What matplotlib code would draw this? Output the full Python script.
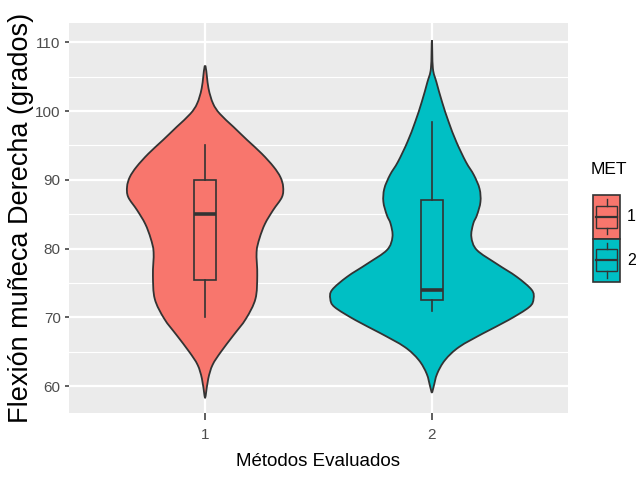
import numpy as np
import matplotlib
matplotlib.use('Agg')
import matplotlib.pyplot as plt
from matplotlib.patches import Rectangle, PathPatch
from matplotlib.path import Path
from matplotlib.lines import Line2D

# violin outlines: y value and half width (x data units)
met1_y = [106.6, 103.3, 101.1, 99.6, 97.7, 95.8, 93.8, 91.9, 90.4, 89.0, 87.5,
          85.6, 83.6, 81.5, 79.5, 76.1, 72.7, 69.8, 67.4, 65.0, 63.1, 61.1,
          58.7, 58.4]
met1_hw = [0.0, 0.015, 0.035, 0.065, 0.125, 0.185, 0.250, 0.302, 0.332, 0.344,
           0.339, 0.300, 0.264, 0.240, 0.227, 0.230, 0.222, 0.180, 0.125, 0.070,
           0.033, 0.014, 0.003, 0.0]
met2_y = [110.3, 106.2, 104.2, 101.3, 98.4, 95.5, 92.6, 90.7, 88.7, 86.8, 84.9,
          83.6, 81.7, 79.8, 77.8, 75.9, 74.0, 72.7, 71.5, 69.6, 67.7, 65.7,
          63.8, 61.8, 59.9, 59.1]
met2_hw = [0.0, 0.0044, 0.020, 0.045, 0.074, 0.108, 0.150, 0.185, 0.210, 0.214,
           0.199, 0.182, 0.174, 0.198, 0.285, 0.374, 0.440, 0.448, 0.429, 0.337,
           0.227, 0.120, 0.058, 0.023, 0.0075, 0.0]

# boxplot summaries
methods = [1, 2]
whis_lo = [70, 71]
q1 = [75.5, 72.5]
median = [85, 74]
q3 = [90, 87]
whis_hi = [95, 98.4]

colors = ['#F8766D', '#00BFC4']
dark = '#333333'

plt.rcParams['font.family'] = ['Liberation Sans', 'DejaVu Sans']


def violin_path(pos, yy, hw):
    # closed outline through the read points, drawn as smooth bezier pieces
    yy = np.asarray(yy, float)
    hw = np.asarray(hw, float)
    right = np.column_stack([pos + hw, yy])
    left = np.column_stack([pos - hw, yy])[::-1]
    pts = np.vstack([right, left[1:-1]])
    n = len(pts)
    verts = [pts[0]]
    codes = [Path.MOVETO]
    for i in range(n):
        p0, p1, p2, p3 = pts[i - 1], pts[i], pts[(i + 1) % n], pts[(i + 2) % n]
        c1 = p1 + (p2 - p0) / 6
        c2 = p2 - (p3 - p1) / 6
        verts += [c1, c2, p2]
        codes += [Path.CURVE4] * 3
    return Path(verts, codes)


W, H = 636, 479
fig = plt.figure(figsize=(W / 100, H / 100), dpi=100)
ax = fig.add_axes([69 / W, 1 - 413 / H, (568 - 69) / W, (413 - 23) / H])
ax.set_facecolor('#EBEBEB')
for s in ax.spines.values():
    s.set_visible(False)

ax.set_xlim(0.4, 2.6)
ax.set_ylim(56.1, 112.8)
ax.set_xticks(methods)
ax.set_xticklabels([str(m) for m in methods])
ax.set_yticks(np.arange(60, 111, 10))
ax.set_yticks(np.arange(65, 110, 10), minor=True)
ax.grid(True, which='major', color='white', linewidth=1.6)
ax.grid(True, which='minor', axis='y', color='white', linewidth=0.8)
ax.set_axisbelow(True)
ax.tick_params(axis='x', which='major', length=5, width=1.1, color=dark,
               labelcolor='#4D4D4D', labelsize=11, pad=5.5)
ax.tick_params(axis='y', which='major', length=3, width=1.1, color=dark,
               labelcolor='#4D4D4D', labelsize=11, pad=3)
ax.tick_params(axis='y', which='minor', length=0)

# violins
for pos, yy, hw, c in zip(methods, [met1_y, met2_y], [met1_hw, met2_hw], colors):
    ax.add_patch(PathPatch(violin_path(pos, yy, hw), facecolor=c, edgecolor=dark,
                           linewidth=1.3, zorder=2))

# boxplots
for i, pos in enumerate(methods):
    st = [dict(med=median[i], q1=q1[i], q3=q3[i], whislo=whis_lo[i],
               whishi=whis_hi[i], fliers=[])]
    ax.bxp(st, positions=[pos], widths=0.1, patch_artist=True, showcaps=False,
           showfliers=False, manage_ticks=False,
           boxprops=dict(facecolor=colors[i], edgecolor=dark, linewidth=1.2),
           medianprops=dict(color=dark, linewidth=2.6, solid_capstyle='butt'),
           whiskerprops=dict(color=dark, linewidth=1.2), zorder=3)

ax.set_xlabel('Métodos Evaluados', fontsize=13.5, color='black', labelpad=8.5)
ax.set_ylabel('Flexión muñeca Derecha (grados)', fontsize=19.5, color='black')
ax.yaxis.set_label_coords((34 - 69) / (568 - 69), 0.5)


# legend drawn by hand in pixel positions
def fx(x):
    return x / W


def fy(y):
    return 1 - y / H


fig.text(fx(591), fy(169), 'MET', fontsize=12.5, va='center', ha='left')
key_top = [195, 238.5]
key_h = 43.5
key_l, key_w = 593, 27
for i, c in enumerate(colors):
    t = key_top[i]
    fig.add_artist(Rectangle((fx(key_l), fy(t + key_h)), key_w / W, key_h / H,
                             transform=fig.transFigure, facecolor=c,
                             edgecolor=dark, linewidth=1.2))
    cx = key_l + key_w / 2
    bl, br = key_l + 0.125 * key_w, key_l + 0.875 * key_w
    bt, bb = t + 0.25 * key_h, t + 0.75 * key_h
    fig.add_artist(Rectangle((fx(bl), fy(bb)), (br - bl) / W, (bb - bt) / H,
                             transform=fig.transFigure, facecolor='none',
                             edgecolor=dark, linewidth=1.0))
    for y0, y1 in [(t + 0.1 * key_h, bt), (bb, t + 0.9 * key_h)]:
        fig.add_artist(Line2D([fx(cx), fx(cx)], [fy(y0), fy(y1)],
                              transform=fig.transFigure, color=dark, linewidth=1.0))
    fig.add_artist(Line2D([fx(bl), fx(br)], [fy(t + key_h / 2)] * 2,
                          transform=fig.transFigure, color=dark, linewidth=1.6))
    fig.text(fx(627), fy(t + key_h / 2), str(methods[i]), fontsize=11.5,
             va='center', ha='left', color='black')

fig.savefig('out.png', dpi=100)
